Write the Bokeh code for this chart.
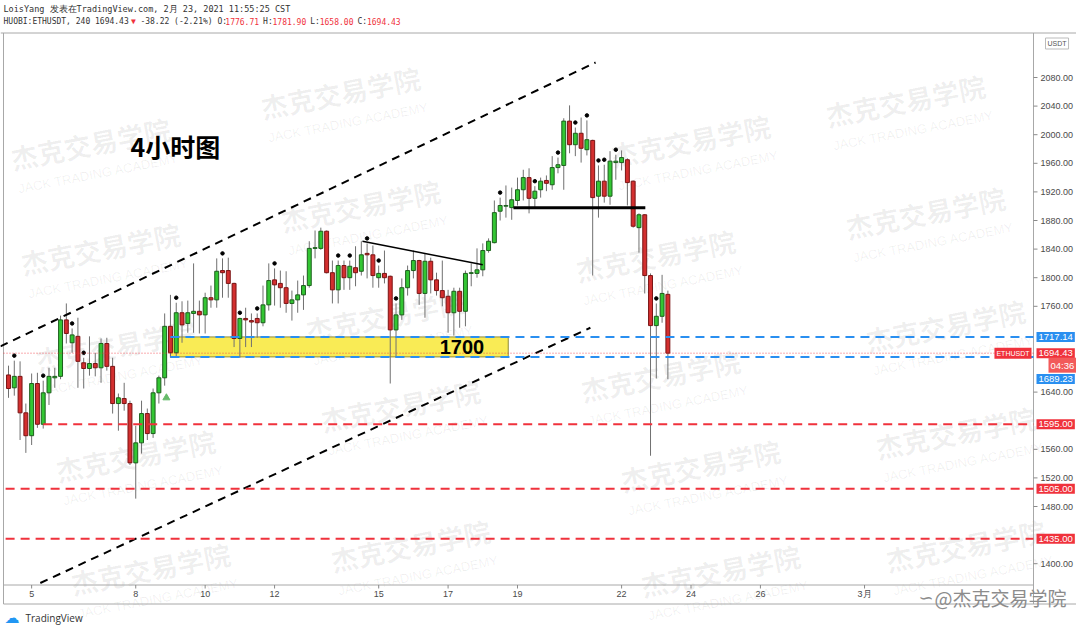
import numpy as np
import pandas as pd
from bokeh.plotting import figure
from bokeh.models import Label, Range1d
from bokeh.core.properties import value
from bokeh.embed import file_html
from bokeh.resources import INLINE

# ---------------- data (HUOBI:ETHUSDT, 4h) ----------------
first_bar = "2021-02-04 08:00"
opens = [1664, 1646, 1662, 1611, 1579, 1652, 1595, 1639, 1660, 1662,
         1741, 1709, 1718, 1681, 1673, 1680, 1674, 1708, 1676, 1624,
         1631, 1624, 1541, 1569, 1610, 1582, 1639, 1660, 1732, 1695,
         1751, 1736, 1750, 1753, 1748, 1772, 1769, 1810, 1810, 1792,
         1715, 1743, 1740, 1743, 1737, 1762, 1797, 1792, 1786, 1764,
         1769, 1776, 1789, 1841, 1841, 1865, 1807, 1783, 1817, 1800,
         1814, 1809, 1834, 1832, 1800, 1806, 1802, 1727, 1748, 1786,
         1810, 1824, 1778, 1823, 1797, 1782, 1774, 1751, 1781, 1753,
         1806, 1806, 1811, 1838, 1849, 1893, 1900, 1898, 1908, 1923,
         1940, 1911, 1923, 1936, 1930, 1954, 1957, 2019, 1986, 2002,
         1979, 1992, 1914, 1935, 1914, 1961, 1961, 1965, 1935, 1870,
         1888, 1803, 1733, 1746, 1776.71]
highs = [1677, 1684, 1683, 1624, 1666, 1667, 1656, 1674, 1674, 1747,
         1764, 1729, 1744, 1688, 1718, 1695, 1715, 1716, 1688, 1638,
         1653, 1628, 1593, 1628, 1617, 1645, 1663, 1750, 1776, 1765,
         1767, 1768, 1820, 1768, 1779, 1789, 1827, 1827, 1828, 1793,
         1744, 1758, 1750, 1750, 1789, 1820, 1813, 1810, 1809, 1782,
         1796, 1803, 1851, 1866, 1870, 1866, 1824, 1824, 1824, 1824,
         1844, 1851, 1848, 1845, 1817, 1838, 1803, 1764, 1799, 1817,
         1838, 1825, 1834, 1828, 1807, 1824, 1783, 1786, 1786, 1810,
         1820, 1841, 1848, 1855, 1908, 1912, 1929, 1926, 1940, 1951,
         1953, 1928, 1940, 1943, 1970, 1968, 2023, 2041, 2010, 2024,
         2020, 1993, 1957, 1958, 1977, 1972, 1978, 1967, 1936, 1890,
         1889, 1806, 1764, 1804, 1781.90]
lows = [1632, 1635, 1573, 1555, 1566, 1590, 1589, 1622, 1646, 1658,
        1708, 1695, 1646, 1645, 1663, 1662, 1653, 1670, 1610, 1586,
        1614, 1538, 1491, 1554, 1573, 1576, 1624, 1649, 1688, 1690,
        1709, 1723, 1723, 1722, 1722, 1758, 1758, 1772, 1772, 1703,
        1688, 1703, 1703, 1716, 1732, 1754, 1761, 1758, 1751, 1740,
        1751, 1755, 1786, 1827, 1839, 1806, 1764, 1764, 1783, 1783,
        1788, 1803, 1799, 1786, 1786, 1792, 1652, 1688, 1741, 1775,
        1799, 1762, 1744, 1778, 1775, 1760, 1723, 1719, 1730, 1732,
        1788, 1800, 1802, 1835, 1848, 1880, 1884, 1881, 1901, 1908,
        1890, 1898, 1912, 1921, 1923, 1946, 1923, 1974, 1970, 1961,
        1971, 1803, 1884, 1905, 1902, 1937, 1950, 1901, 1870, 1835,
        1778, 1551, 1659, 1737, 1658.00]
closes = [1645, 1662, 1611, 1579, 1652, 1595, 1639, 1662, 1662, 1741,
          1722, 1720, 1683, 1673, 1680, 1674, 1708, 1676, 1624, 1632,
          1624, 1541, 1569, 1610, 1582, 1639, 1660, 1732, 1695, 1751,
          1734, 1751, 1753, 1748, 1772, 1769, 1809, 1807, 1792, 1715,
          1743, 1741, 1738, 1737, 1762, 1796, 1790, 1786, 1764, 1769,
          1776, 1789, 1841, 1842, 1865, 1807, 1783, 1817, 1800, 1816,
          1807, 1832, 1832, 1803, 1806, 1800, 1727, 1748, 1786, 1810,
          1824, 1778, 1823, 1797, 1782, 1772, 1751, 1781, 1753, 1806,
          1807, 1811, 1838, 1851, 1891, 1901, 1901, 1909, 1923, 1940,
          1911, 1921, 1935, 1932, 1954, 1958, 2019, 1986, 2002, 1981,
          1993, 1912, 1935, 1914, 1963, 1963, 1968, 1933, 1872, 1888,
          1803, 1733, 1746, 1778, 1694.43]
change = -38.22

fractal_bars = [1, 6, 11, 13, 29, 37, 40, 43, 46, 57, 59, 62, 64, 67,
                85, 91, 95, 98, 100, 102, 103, 105, 112]
signal_bars = [27]

tick_dates = ["2021-02-05", "2021-02-08", "2021-02-10", "2021-02-12", "2021-02-15",
              "2021-02-17", "2021-02-19", "2021-02-22", "2021-02-24", "2021-02-26",
              "2021-03-01"]
tick_labels = ["5", "8", "10", "12", "15", "17", "19", "22", "24", "26", "3月"]
price_ticks = [1400, 1480, 1520, 1560, 1640, 1760, 1800, 1840, 1880, 1920,
               1960, 2000, 2040, 2080]

# drawings (bar index, price)
chan_up_x, chan_up_y = [-1.4, 101.5], [1704, 2101]
chan_lo_x, chan_lo_y = [5.5, 100.6], [1373, 1730]
trend_x, trend_y = [61.2, 82.0], [1851, 1818]
neck_x, neck_y = [87.3, 110.1], [1898, 1898]
zone_left, zone_right = 28.0, 86.4
zone_top, zone_bottom = 1717.14, 1689.23
zone_text = "1700"
blue_levels = [1717.14, 1689.23]
red_levels = [1595.00, 1505.00, 1435.00]
red_starts = [6.0, -0.5, -0.5]
last_price = 1694.43
countdown = "04:36"

wm_pos = [(340, 92), (905, 100), (90, 143), (690, 140), (360, 205), (100, 248),
          (655, 255), (925, 212), (385, 315), (945, 325), (115, 345), (660, 375),
          (400, 405), (955, 432), (135, 455), (700, 465), (410, 545), (965, 545),
          (150, 568), (720, 570)]

# ---------------- canvas mapping (pixel -> data) ----------------
W, H = 1076, 627
BAR_PX = 5.784          # pixels per 4h bar
PX_PER_USD = 0.715      # pixels per USDT


def X(px):
    return (px - 8) / BAR_PX


def Y(py):
    return 2080 - (py - 77) / PX_PER_USD


p = figure(frame_width=W, frame_height=H, x_range=Range1d(X(0), X(W)),
           y_range=Range1d(Y(H), Y(0)), output_backend="svg", toolbar_location=None,
           min_border=0, background_fill_color="white", border_fill_color="white")
p.xgrid.visible = False
p.ygrid.visible = False
p.axis.visible = False
p.outline_line_color = None

RIGHT = X(1033)
FONT = value("Liberation Sans")

# watermarks
p.text(x=[X(cx) for cx, cy in wm_pos], y=[Y(cy) for cx, cy in wm_pos],
       text=["杰克交易学院"] * len(wm_pos), angle=0.19, text_align="center",
       text_baseline="middle", text_font=value("Noto Sans CJK SC"), text_font_size="27px",
       text_font_style="bold", text_color="#000000", text_alpha=0.065)
p.text(x=[X(cx + 8) for cx, cy in wm_pos], y=[Y(cy + 30) for cx, cy in wm_pos],
       text=["JACK TRADING ACADEMY"] * len(wm_pos), angle=0.19, text_align="center",
       text_baseline="middle", text_font=FONT, text_font_size="13px",
       text_color="#000000", text_alpha=0.065)

# frame lines (chart / axes separators)
GRAY = "#a8a8a8"
p.segment(x0=[X(0), X(3), X(3), X(3), X(1033)],
          x1=[X(W), X(W), X(1033), X(3), X(1033)],
          y0=[Y(32.5), Y(603.5), Y(584.5), Y(32.5), Y(32.5)],
          y1=[Y(32.5), Y(603.5), Y(584.5), Y(603.5), Y(603.5)],
          line_color=GRAY, line_width=1)

# support zone
p.quad(left=[zone_left], right=[zone_right], top=[zone_top], bottom=[zone_bottom],
       fill_color="#f9ea4c", fill_alpha=0.95, line_color="#8d8a3a", line_width=1)

# candles
x = np.arange(len(opens))
o = np.array(opens, float)
h = np.array(highs, float)
lo = np.array(lows, float)
c = np.array(closes, float)
up = c >= o
p.segment(x0=x, y0=lo, x1=x, y1=h, line_color="#707070", line_width=1)
p.vbar(x=x[up], width=0.68, top=c[up], bottom=o[up], fill_color="#33c633",
       line_color="#1d5e1d", line_width=1)
p.vbar(x=x[~up], width=0.68, top=o[~up], bottom=c[~up], fill_color="#d32f2f",
       line_color="#7a1414", line_width=1)
p.scatter(x=fractal_bars, y=[h[i] + 7 for i in fractal_bars], size=3.5, color="black")
p.scatter(x=[b + 0.3 for b in signal_bars], y=[lo[b] - 17 for b in signal_bars],
          marker="triangle", size=7, color="#66bb6a")

# drawings
p.line(chan_up_x, chan_up_y, line_color="black", line_width=2, line_dash="8 6")
p.line(chan_lo_x, chan_lo_y, line_color="black", line_width=2, line_dash="8 6")
p.line(trend_x, trend_y, line_color="black", line_width=1.5)
p.line(neck_x, neck_y, line_color="black", line_width=3)
p.segment(x0=[zone_left] * 2, x1=[RIGHT] * 2, y0=blue_levels, y1=blue_levels,
          line_color="#2a8ff0", line_width=2, line_dash="9 6")
p.segment(x0=red_starts, x1=[RIGHT] * 3, y0=red_levels, y1=red_levels,
          line_color="#f0323c", line_width=2, line_dash="9 6")
p.line([X(3), RIGHT], [last_price] * 2, line_color="#f0323c", line_width=1, line_dash="1 2",
       line_alpha=0.8)
p.text(x=[zone_right - 8], y=[(zone_top + zone_bottom) / 2], text=[zone_text],
       text_align="center", text_baseline="middle", text_font=FONT,
       text_font_size="20px", text_font_style="bold", text_color="black")

# price axis (right)
p.segment(x0=[RIGHT] * len(price_ticks), x1=[X(1037)] * len(price_ticks),
          y0=price_ticks, y1=price_ticks, line_color="#8a8a8a")
p.text(x=[X(1040)] * len(price_ticks), y=price_ticks, text=[f"{v:.2f}" for v in price_ticks],
       text_align="left", text_baseline="middle", text_font=FONT, text_font_size="9px",
       text_color="#4a4a4a")

# time axis (bottom)
start = pd.Timestamp(first_bar)
tick_idx = [(pd.Timestamp(d) - start) / pd.Timedelta(hours=4) for d in tick_dates]
p.segment(x0=tick_idx, x1=tick_idx, y0=[Y(584.5)] * len(tick_idx), y1=[Y(588)] * len(tick_idx),
          line_color="#8a8a8a")
p.text(x=tick_idx, y=[Y(593)] * len(tick_idx), text=tick_labels, text_align="center",
       text_baseline="middle", text_font=FONT, text_font_size="9px", text_color="#4a4a4a")


def py_of(v):
    return 77 + (2080 - v) * PX_PER_USD


def box(px, py, text, bg, size=9.5, align="left", color="white", border=None):
    p.add_layout(Label(x=X(px), y=Y(py), text=text, text_font="Liberation Sans",
                       text_font_size=f"{size}px", text_color=color, text_align=align,
                       text_baseline="middle", background_fill_color=bg,
                       border_line_color=border, padding=2))


# right-side price boxes
for v in blue_levels:
    shift = 22 if v == zone_bottom else 0
    box(1036, py_of(v) + shift, f"{v:.2f}", "#2a8ff0")
for v in red_levels:
    box(1036, py_of(v), f"{v:.2f}", "#f0323c")
box(1036, py_of(last_price), f"{last_price:.2f}", "#f0323c")
box(1048, py_of(last_price) + 12, countdown, "#f25a5a")
box(1031, py_of(last_price), "ETHUSDT", "#f0323c", size=7, align="right")
box(1045, 43, "USDT", "white", size=7, color="#555555", border="#bbbbbb")

# header
MONO = value("DejaVu Sans Mono")
p.text(x=[X(3)], y=[Y(8)], text=["LoisYang 发表在TradingView.com, 2月 23, 2021 11:55:25 CST"],
       text_align="left", text_baseline="middle", text_font=MONO, text_font_size="8.5px",
       text_color="#333333")
prev_close = last_price - change
pct = change / prev_close * 100
segs = [(f"HUOBI:ETHUSDT, 240 {last_price:.2f}", "#333333"), (" ▼", "#f0323c"),
        (f" {change:.2f} ({pct:.2f}%) O:", "#333333"),
        (f"{opens[-1]:.2f}", "#f0323c"), (" H:", "#333333"), (f"{highs[-1]:.2f}", "#f0323c"),
        (" L:", "#333333"), (f"{lows[-1]:.2f}", "#f0323c"), (" C:", "#333333"),
        (f"{closes[-1]:.2f}", "#f0323c")]
CW = 4.72
xs, texts, pos = [], [], 3.0
for t, col in segs:
    lead = len(t) - len(t.lstrip(" "))
    xs.append(X(pos + lead * CW))
    texts.append(t.lstrip(" "))
    pos += len(t) * CW
p.text(x=xs, y=[Y(21)] * len(segs), text=texts,
       text_color=[col for _, col in segs], text_align="left", text_baseline="middle",
       text_font=MONO, text_font_size="8px")

# titles / logos
p.text(x=[X(130)], y=[Y(145)], text=["4小时图"], text_align="left", text_baseline="middle",
       text_font=value("Noto Sans CJK SC"), text_font_size="25px", text_font_style="bold",
       text_color="black")
p.text(x=[X(4)], y=[Y(617)], text=["☁"], text_align="left", text_baseline="middle",
       text_font=value("DejaVu Sans"), text_font_size="15px", text_color="#2196f3")
p.text(x=[X(25)], y=[Y(617)], text=["TradingView"], text_align="left", text_baseline="middle",
       text_font=value("Open Sans"), text_font_size="10px", text_color="#333333")
p.text(x=[X(918)], y=[Y(597)], text=["∽"], text_align="left", text_baseline="middle",
       text_font=value("DejaVu Sans"), text_font_size="18px", text_color="#8c8c8c")
p.text(x=[X(934)], y=[Y(597)], text=["@杰克交易学院"], text_align="left",
       text_baseline="middle", text_font=value("Noto Sans CJK SC"), text_font_size="19px",
       text_color="#8c8c8c")

open("out.html", "w").write(file_html(p, INLINE))
